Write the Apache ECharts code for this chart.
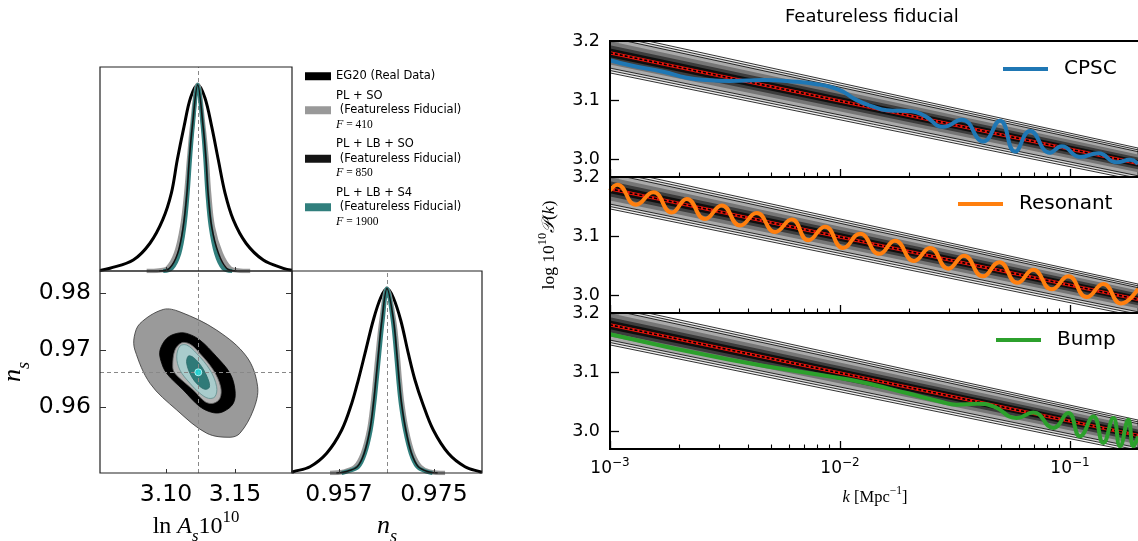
<!DOCTYPE html>
<html><head><meta charset="utf-8">
<script src="https://cdn.jsdelivr.net/npm/echarts@6/dist/echarts.min.js"></script>
<style>html,body{margin:0;padding:0;background:#fff}#c{width:1138px;height:541px}</style>
</head><body><div id="c"></div>
<script>
// ---------------- data: corner plot ----------------
const legendNames = ['EG20 (Real Data)', 'PL + SO', 'PL + LB + SO', 'PL + LB + S4'];
const legendFisher = {'PL + SO': '410', 'PL + LB + SO': '850', 'PL + LB + S4': '1900'};
const lnAsTicks = [3.10, 3.15];
const nsTicks = [0.96, 0.97, 0.98];
const nsXTicks = [0.957, 0.975];
const fiducialLnAs = 3.1232;
const fiducialNs = 0.9661;
// 1D posteriors: [parameter value, normalised height]
const lnAsEG20 = [[3.0522,0.003],[3.0594,0.0145],[3.0763,0.059],[3.0884,0.149],[3.0976,0.274],[3.1039,0.418],[3.1082,0.597],[3.1131,0.776],[3.1178,0.93],[3.1230,1.0],[3.1282,0.93],[3.1331,0.776],[3.1379,0.597],[3.1428,0.418],[3.1488,0.274],[3.158,0.149],[3.1705,0.059],[3.185,0.0145],[3.1913,0.004]];
const lnAsPLSO = [[3.086,0],[3.095,0.003],[3.101,0.0145],[3.1073,0.095],[3.1118,0.238],[3.1147,0.418],[3.1167,0.597],[3.1189,0.776],[3.123,1],[3.1271,0.776],[3.1295,0.597],[3.1312,0.418],[3.1339,0.238],[3.1397,0.095],[3.1464,0.0145],[3.152,0.003],[3.161,0]];
const lnAsPLLBSO = [[3.095,0],[3.1025,0.0145],[3.1085,0.095],[3.1125,0.238],[3.1152,0.418],[3.1169,0.597],[3.1191,0.776],[3.123,1],[3.1269,0.776],[3.129,0.597],[3.1305,0.418],[3.1331,0.238],[3.138,0.095],[3.1439,0.0145],[3.151,0]];
const lnAsPLLBS4 = [[3.098,0],[3.1042,0.0145],[3.1097,0.095],[3.1133,0.238],[3.1157,0.418],[3.1174,0.597],[3.1194,0.776],[3.123,1],[3.1266,0.776],[3.1285,0.597],[3.13,0.418],[3.1324,0.238],[3.1363,0.095],[3.1415,0.0145],[3.148,0]];
const nsEG20 = [[0.9481,0.003],[0.94835,0.007],[0.95151,0.034],[0.95467,0.107],[0.95752,0.233],[0.95941,0.377],[0.96066,0.504],[0.96193,0.648],[0.9635,0.828],[0.9649,0.95],[0.9661,1],[0.9673,0.95],[0.9687,0.828],[0.97014,0.648],[0.9714,0.504],[0.97286,0.377],[0.97487,0.233],[0.97771,0.107],[0.98088,0.034],[0.98372,0.007],[0.9841,0.005]];
const nsPLSO = [[0.9553,0],[0.95789,0.007],[0.96009,0.034],[0.96155,0.107],[0.96272,0.233],[0.96341,0.377],[0.96387,0.504],[0.96436,0.648],[0.96505,0.828],[0.9661,1],[0.96742,0.828],[0.96809,0.648],[0.96852,0.504],[0.96898,0.377],[0.9698,0.233],[0.97097,0.107],[0.97241,0.034],[0.97419,0.007],[0.9771,0]];
const nsPLLBSO = [[0.9565,0],[0.95818,0.007],[0.96047,0.034],[0.96178,0.107],[0.96286,0.233],[0.96354,0.377],[0.964,0.504],[0.96449,0.648],[0.96514,0.828],[0.9661,1],[0.96733,0.828],[0.96796,0.648],[0.96839,0.504],[0.96885,0.377],[0.96966,0.233],[0.97074,0.107],[0.97203,0.034],[0.9739,0.007],[0.9757,0]];
const nsPLLBS4 = [[0.9575,0],[0.95846,0.007],[0.96066,0.034],[0.96193,0.107],[0.96301,0.233],[0.96369,0.377],[0.96415,0.504],[0.96464,0.648],[0.96529,0.828],[0.9661,1],[0.96718,0.828],[0.96781,0.648],[0.96824,0.504],[0.9687,0.377],[0.96951,0.233],[0.97059,0.107],[0.97184,0.034],[0.97362,0.007],[0.9747,0]];
// 2D contours (lnAs, ns)
const contourEG20Outer = [[3.0812,0.97468],[3.0980,0.97714],[3.1101,0.97672],[3.1367,0.97351],[3.1585,0.96882],[3.1664,0.96356],[3.1633,0.95947],[3.1536,0.95539],[3.1464,0.95468],[3.1295,0.95539],[3.1078,0.95947],[3.0884,0.96416],[3.0775,0.97],[3.0770,0.97233]];
const contourEG20Inner = [[3.0957,0.9700],[3.1005,0.97205],[3.1078,0.97293],[3.1150,0.97293],[3.1246,0.97175],[3.1367,0.96882],[3.1464,0.96591],[3.1500,0.96298],[3.1488,0.96065],[3.1415,0.95918],[3.1343,0.95900],[3.1246,0.96005],[3.1125,0.96298],[3.1005,0.96591],[3.0962,0.96825]];
const contourPLSO = [[3.1049,0.96707],[3.1065,0.97],[3.1114,0.97128],[3.1174,0.97105],[3.1246,0.96942],[3.1343,0.96649],[3.1396,0.96356],[3.1391,0.96153],[3.1343,0.96065],[3.1283,0.96093],[3.1198,0.96298],[3.1114,0.96474],[3.1065,0.96591]];
const contourS4Outer = [[3.1078,0.96882],[3.1101,0.9707],[3.1150,0.97088],[3.1222,0.96942],[3.1319,0.96649],[3.1367,0.96356],[3.1355,0.96181],[3.1307,0.96153],[3.1246,0.9624],[3.1174,0.96416],[3.1101,0.96649]];
const contourS4Inner = [[3.1150,0.96767],[3.1162,0.96895],[3.1198,0.96872],[3.1259,0.96707],[3.1307,0.96474],[3.1314,0.96346],[3.1283,0.96311],[3.1234,0.96386],[3.1186,0.96532]];
const bestFit = [[3.1234, 0.9661]];

// ---------------- data: power spectra ----------------
const kTicks = [0.001, 0.01, 0.1];
const kMinorTicks = [0.002,0.003,0.004,0.005,0.006,0.007,0.008,0.009,0.02,0.03,0.04,0.05,0.06,0.07,0.08,0.09];
const pkTicks = [3.0, 3.1, 3.2];
const fiducialK = [0.001, 0.1976];
const fiducialP = [3.180, 2.993];
const bandK = [0.001, 0.1976];
const bandUpper = [[3.214,3.019],[3.2099,3.0159],[3.2058,3.0128],[3.1997,3.0081],[3.1929,3.0029],[3.1875,2.9988]];
const bandLower = [[3.146,2.964],[3.1501,2.968],[3.1542,2.972],[3.1603,2.9779],[3.1671,2.9831],[3.1725,2.9872]];
const featureNames = ['CPSC', 'Resonant', 'Bump'];
const cpscK = [0.001,0.001222,0.001704,0.002156,0.002633,0.003323,0.00464,0.006481,0.00792,0.009352,0.010335,0.011818,0.013955,0.015957,0.0205,0.023425,0.028118,0.033808,0.041976,0.04963,0.05767,0.067,0.08185,0.092,0.11053,0.13274,0.15959,0.18237,0.1976];
const cpscP = [3.1675,3.159,3.148,3.138,3.134,3.1325,3.134,3.131,3.127,3.121,3.114,3.100,3.089,3.083,3.081,3.073,3.055,3.067,3.030,3.065,3.013,3.048,3.011,3.022,3.004,3.010,2.995,2.999,2.992];
const resK = [0.001,0.001076,0.001297,0.001543,0.001855,0.002156,0.002588,0.00306,0.003675,0.004343,0.005217,0.006166,0.00728,0.008604,0.0103,0.012218,0.014822,0.01734,0.02098,0.024616,0.02957,0.034595,0.04173,0.04928,0.059,0.06923,0.08325,0.09831,0.1182,0.13956,0.1666,0.1976];
const resP = [3.177,3.187,3.153,3.174,3.140,3.163,3.129,3.152,3.118,3.139,3.107,3.128,3.093,3.116,3.080,3.104,3.070,3.092,3.058,3.080,3.045,3.067,3.032,3.056,3.021,3.043,3.010,3.032,2.997,3.019,2.986,3.011];
const bumpK = [0.001,0.003323,0.011052,0.013955,0.019498,0.027216,0.03217,0.039289,0.0464,0.05866,0.06923,0.0846,0.09831,0.11053,0.1263,0.13956,0.1543,0.16496,0.1793,0.18847,0.1976];
const bumpP = [3.164,3.121,3.087,3.0786,3.0646,3.0504,3.0449,3.0465,3.042,3.0224,3.0319,3.0056,3.0309,2.9914,3.0251,2.9803,3.0224,2.9745,3.0196,2.9745,2.9914];

// ---------------- styles ----------------
const SANS = 'DejaVu Sans';
const SERIF = 'Liberation Serif';
const colEG = '#000000', colSO = '#999999', colLB = '#141414', colS4 = '#317f7d';
const featureColors = ['#1f77b4', '#ff7f0e', '#2ca02c'];
const bandFill = ['#f2f2f2', '#d8d8d8', '#aaaaaa', '#767676', '#3c3c3c', '#0e0e0e'];
const bandStroke = ['#000', '#000', '#000', null, null, null];

const zip = (a, b) => a.map((v, i) => [v, b[i]]);
const mathRich = (fs) => ({
  n: {fontFamily: SERIF, fontSize: fs, lineHeight: fs * 1.5, color: '#000'},
  i: {fontFamily: SERIF, fontStyle: 'italic', fontSize: fs, lineHeight: fs * 1.5, color: '#000'},
  sub: {fontFamily: SERIF, fontStyle: 'italic', fontSize: fs * 0.7, lineHeight: fs * 0.7, verticalAlign: 'bottom', color: '#000'},
  sup: {fontFamily: SERIF, fontSize: fs * 0.7, lineHeight: fs * 0.7, verticalAlign: 'top', color: '#000'}
});
const dashLine = data => ({silent: true, symbol: ['none', 'none'], precision: 6, label: {show: false},
  lineStyle: {type: [4, 3], color: '#888', width: 1}, data});

function polySeries(name, pts, fill, stroke, lw) {
  return {
    type: 'custom', name, xAxisIndex: 1, yAxisIndex: 1, z: 2,
    data: [pts[0]],
    renderItem: (params, api) => ({
      type: 'polygon',
      shape: {points: pts.map(p => api.coord(p)), smooth: 0.35},
      style: {fill, stroke: stroke || null, lineWidth: lw || 0}
    })
  };
}

function post1D(name, pts, gx, gy, color, width, z, mark) {
  const s = {
    type: 'line', name, xAxisIndex: gx, yAxisIndex: gy, z,
    data: pts, smooth: 0.35, symbol: 'none',
    lineStyle: {color, width}, itemStyle: {color}
  };
  if (mark) s.markLine = dashLine(mark);
  return s;
}

const series = [];
// top-left lnAs posterior
series.push(post1D(legendNames[0], lnAsEG20, 0, 0, colEG, 3, 3, [{xAxis: fiducialLnAs}]));
series.push(post1D(legendNames[1], lnAsPLSO, 0, 0, colSO, 4.5, 4));
series.push(post1D(legendNames[2], lnAsPLLBSO, 0, 0, colLB, 1.6, 6));
series.push(post1D(legendNames[3], lnAsPLLBS4, 0, 0, colS4, 4, 5));
// bottom-right ns posterior
series.push(post1D(legendNames[0], nsEG20, 2, 3, colEG, 3, 3, [{xAxis: fiducialNs}]));
series.push(post1D(legendNames[1], nsPLSO, 2, 3, colSO, 4.5, 4));
series.push(post1D(legendNames[2], nsPLLBSO, 2, 3, colLB, 1.6, 6));
series.push(post1D(legendNames[3], nsPLLBS4, 2, 3, colS4, 4, 5));
// 2D contours
series.push(polySeries(legendNames[0], contourEG20Outer, '#9a9a9a', '#333', 0.8));
series.push(polySeries(legendNames[0], contourEG20Inner, '#000000', '#000', 0.8));
series.push(polySeries(legendNames[1], contourPLSO, '#b4b4b4', '#666', 0.8));
series.push(polySeries(legendNames[3], contourS4Outer, '#a9cccc', '#5f8f8e', 0.8));
series.push(polySeries(legendNames[3], contourS4Inner, '#2f7a78', '#2a6a68', 0.8));
series.push({
  type: 'scatter', name: 'best fit', xAxisIndex: 1, yAxisIndex: 1, z: 8,
  data: bestFit, symbolSize: 7, itemStyle: {color: '#22e5e5', borderColor: '#c8ffff', borderWidth: 1},
  markLine: dashLine([{xAxis: fiducialLnAs}, {yAxis: fiducialNs}])
});

// power spectrum panels
const featureK = [cpscK, resK, bumpK];
const featureP = [cpscP, resP, bumpP];
for (let p = 0; p < 3; p++) {
  const xi = 3 + p, yi = 4 + p;
  series.push({
    type: 'custom', name: 'band' + p, xAxisIndex: xi, yAxisIndex: yi, z: 1,
    data: bandUpper.map(u => [bandK[0], u[0]]),
    renderItem: (params, api) => {
      const i = params.dataIndex, u = bandUpper[i], l = bandLower[i], cs = params.coordSys;
      return {
        type: 'polygon',
        shape: {points: [api.coord([bandK[0], u[0]]), api.coord([bandK[1], u[1]]), api.coord([bandK[1], l[1]]), api.coord([bandK[0], l[0]])]},
        style: {fill: bandFill[i], stroke: bandStroke[i], lineWidth: bandStroke[i] ? 0.8 : 0},
        clipPath: {type: 'rect', shape: {x: cs.x, y: cs.y, width: cs.width, height: cs.height}}
      };
    }
  });
  series.push({type: 'line', name: 'fid' + p, xAxisIndex: xi, yAxisIndex: yi, z: 2, symbol: 'none',
    data: zip(fiducialK, fiducialP), lineStyle: {color: '#e8140c', width: 3.2}});
  series.push({type: 'line', name: 'fidd' + p, xAxisIndex: xi, yAxisIndex: yi, z: 3, symbol: 'none',
    data: zip(fiducialK, fiducialP), lineStyle: {color: '#000', width: 1.6, type: [3, 2]}});
  series.push({type: 'line', name: featureNames[p], xAxisIndex: xi, yAxisIndex: yi, z: 4, symbol: 'none',
    smooth: 0.5, data: zip(featureK[p], featureP[p]),
    lineStyle: {color: featureColors[p], width: 4}, itemStyle: {color: featureColors[p]}});
}

const kLabelFmt = v => '{b|10}{s|−' + Math.round(-Math.log10(v)) + '}';
function rightX(gi, showLabel, name) {
  const ax = {gridIndex: gi, type: 'log', logBase: 10, min: 0.001, max: 0.2015, position: 'bottom', z: 10,
    axisLine: {show: false}, splitLine: {show: false}, minorTick: {show: false},
    axisTick: {show: true, inside: true, length: 8, customValues: kTicks, lineStyle: {color: '#000', width: 1.3}},
    axisLabel: {show: showLabel, customValues: kTicks, formatter: kLabelFmt, margin: 8, color: '#000',
      rich: {b: {fontFamily: SANS, fontSize: 17, lineHeight: 24, color: '#000'},
             s: {fontFamily: SANS, fontSize: 12, lineHeight: 12, verticalAlign: 'top', color: '#000'}}}};
  if (name) Object.assign(ax, {name, nameLocation: 'middle', nameGap: 36, nameTextStyle: {rich: mathRich(16.5)}});
  return ax;
}
function rightXMinor(gi) {
  return {gridIndex: gi, type: 'log', logBase: 10, min: 0.001, max: 0.2015, position: 'bottom', z: 10,
    axisLine: {show: false}, splitLine: {show: false}, axisLabel: {show: false},
    axisTick: {show: true, inside: true, length: 4.5, customValues: kMinorTicks, lineStyle: {color: '#000', width: 1.1}}};
}
function rightY(gi, name) {
  const ax = {gridIndex: gi, type: 'value', min: 2.97, max: 3.2, z: 10,
    axisLine: {show: false}, splitLine: {show: false},
    axisTick: {show: true, inside: true, length: 9, customValues: pkTicks, lineStyle: {color: '#000', width: 1.3}},
    axisLabel: {customValues: pkTicks, formatter: v => v.toFixed(1), margin: 10, color: '#000', fontFamily: SANS, fontSize: 17.5}};
  if (name) Object.assign(ax, {name, nameLocation: 'middle', nameGap: 47, nameRotate: 90, nameTextStyle: {rich: mathRich(17.5)}});
  return ax;
}

const leftLabel = {color: '#000', fontFamily: SANS, fontSize: 23.5};
const option = {
  animation: false,
  backgroundColor: '#ffffff',
  title: {text: 'Featureless fiducial', left: 785, top: 8, padding: 0,
    textStyle: {fontFamily: SANS, fontSize: 18, fontWeight: 'normal', color: '#000'}},
  legend: [
    {data: legendNames, orient: 'vertical', left: 305, top: 69, padding: 0, itemGap: 5, icon: 'rect',
     itemWidth: 26, itemHeight: 8, selectedMode: false,
     formatter: name => legendFisher[name] ? name + '\n (Featureless Fiducial)\n{fi|F}{fn| = ' + legendFisher[name] + '}' : name,
     textStyle: {fontFamily: SANS, fontSize: 11.5, lineHeight: 14.5, color: '#000',
       rich: {fi: {fontFamily: SERIF, fontStyle: 'italic', fontSize: 12, lineHeight: 14.5, color: '#000'},
              fn: {fontFamily: SERIF, fontSize: 11.5, lineHeight: 14.5, color: '#000'}}}},
    ...featureNames.map((n, i) => ({data: [n], left: [1003, 958, 996][i], top: [59, 194, 330][i], padding: 0,
      icon: 'rect', itemWidth: 45, itemHeight: 4, selectedMode: false,
      formatter: '{p|}{name}',
      textStyle: {fontFamily: SANS, fontSize: 20, color: '#000', rich: {p: {width: 11}}}}))
  ],
  grid: [
    {left: 100, top: 67, width: 192, height: 204},
    {left: 100, top: 271, width: 192, height: 202},
    {left: 292, top: 271, width: 190, height: 202},
    {left: 610, top: 41, right: -2, height: 136},
    {left: 610, top: 177, right: -2, height: 136},
    {left: 610, top: 313, right: -2, height: 136}
  ].map((g, i) => Object.assign(g, {show: true, z: 10, backgroundColor: 'transparent', outerBoundsMode: 'none',
      borderColor: i < 3 ? '#222' : '#000', borderWidth: i < 3 ? 1.2 : 2})),
  xAxis: [
    {gridIndex: 0, type: 'value', min: 3.0522, max: 3.1913, z: 10, axisLine: {show: false}, splitLine: {show: false},
     axisLabel: {show: false}, axisTick: {show: true, inside: true, length: 4, customValues: lnAsTicks, lineStyle: {color: '#333'}}},
    {gridIndex: 1, type: 'value', min: 3.0522, max: 3.1913, z: 10, axisLine: {show: false}, splitLine: {show: false},
     axisTick: {show: true, inside: true, length: 4, customValues: lnAsTicks, lineStyle: {color: '#333'}},
     axisLabel: Object.assign({customValues: lnAsTicks, formatter: v => v.toFixed(2), margin: 10}, leftLabel),
     name: '{n|ln }{i|A}{sub|s}{n|10}{sup|10}', nameLocation: 'middle', nameGap: 36, nameTextStyle: {rich: mathRich(24)}},
    {gridIndex: 2, type: 'value', min: 0.9481, max: 0.9841, z: 10, axisLine: {show: false}, splitLine: {show: false},
     axisTick: {show: true, inside: true, length: 4, customValues: nsXTicks, lineStyle: {color: '#333'}},
     axisLabel: Object.assign({customValues: nsXTicks, formatter: v => v.toFixed(3), margin: 10}, leftLabel),
     name: '{i|n}{sub|s}', nameLocation: 'middle', nameGap: 34, nameTextStyle: {rich: mathRich(26)}},
    rightX(3, false), rightX(4, false), rightX(5, true, '{i|k}{n| [Mpc}{sup|−1}{n|]}'),
    rightXMinor(3), rightXMinor(4), rightXMinor(5)
  ],
  yAxis: [
    {gridIndex: 0, type: 'value', min: 0, max: 1.095, show: false},
    {gridIndex: 1, type: 'value', min: 0.9484, max: 0.9839, z: 10, axisLine: {show: false}, splitLine: {show: false},
     axisTick: {show: true, inside: true, length: 6, customValues: nsTicks, lineStyle: {color: '#333'}},
     axisLabel: Object.assign({customValues: nsTicks, formatter: v => v.toFixed(2), margin: 9}, leftLabel),
     name: '{i|n}{sub|s}', nameLocation: 'middle', nameGap: 67, nameRotate: 90, nameTextStyle: {rich: mathRich(26)}},
    {gridIndex: 1, type: 'value', position: 'right', min: 0.9484, max: 0.9839, z: 10, axisLine: {show: false},
     splitLine: {show: false}, axisLabel: {show: false},
     axisTick: {show: true, inside: true, length: 6, customValues: nsTicks, lineStyle: {color: '#333'}}},
    {gridIndex: 2, type: 'value', min: 0, max: 1.095, show: false},
    rightY(3), rightY(4, '{n|log 10}{sup|10}{i|𝒫}{n|(}{i|k}{n|)}'), rightY(5)
  ],
  series
};
const chart = echarts.init(document.getElementById('c'), null, {renderer: 'canvas'});
chart.setOption(option);
</script></body></html>
